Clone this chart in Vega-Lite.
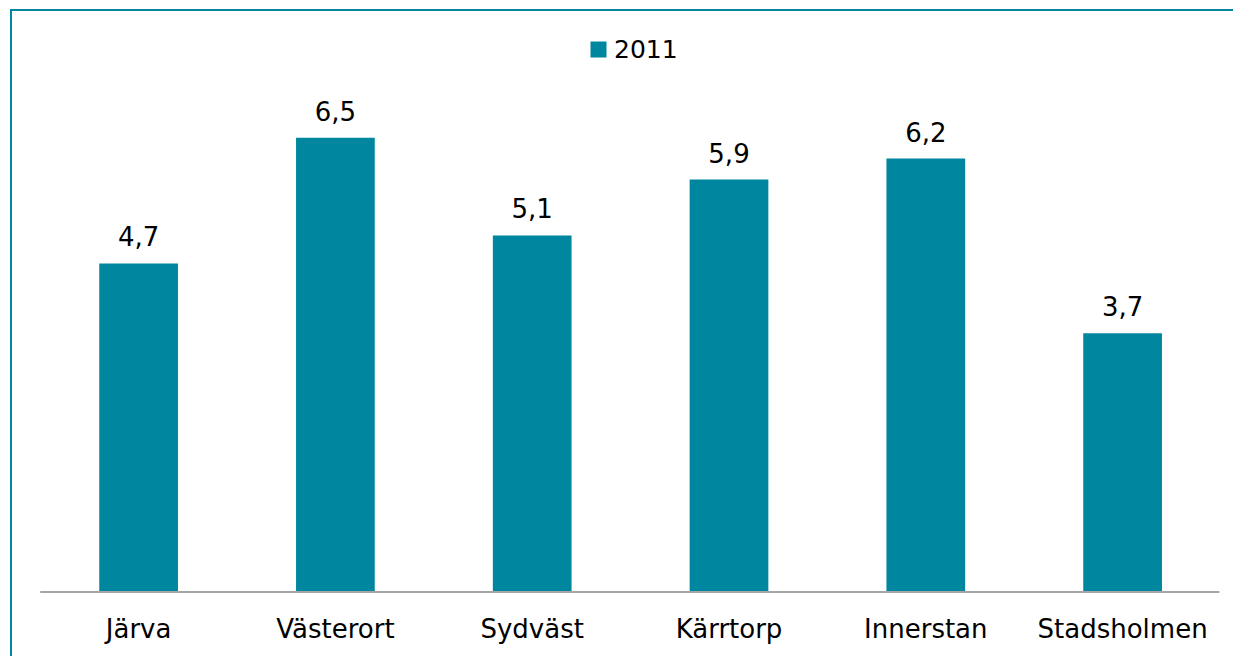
{
  "$schema": "https://vega.github.io/schema/vega-lite/v6.json",
  "autosize": "none",
  "width": 1222,
  "height": 646,
  "padding": {"left": 11, "top": 10, "right": 0, "bottom": 0},
  "background": "#ffffff",
  "config": {
    "locale": {"number": {"decimal": ",", "thousands": " ", "grouping": [3], "currency": ["", " kr"]}},
    "view": {"stroke": "#00869f", "strokeWidth": 2, "strokeDash": [1222, 1868, 646, 1]},
    "font": "DejaVu Sans",
    "text": {"font": "DejaVu Sans"}
  },
  "layer": [
    {
      "data": {"values": [
        {"omrade": "Järva", "ar": "2011", "varde": 4.7},
        {"omrade": "Västerort", "ar": "2011", "varde": 6.5},
        {"omrade": "Sydväst", "ar": "2011", "varde": 5.1},
        {"omrade": "Kärrtorp", "ar": "2011", "varde": 5.9},
        {"omrade": "Innerstan", "ar": "2011", "varde": 6.2},
        {"omrade": "Stadsholmen", "ar": "2011", "varde": 3.7}
      ]},
      "layer": [
        {
          "mark": {"type": "bar"},
          "encoding": {
            "x": {
              "field": "omrade", "type": "nominal", "sort": null,
              "scale": {"domain": ["Järva", "Västerort", "Sydväst", "Kärrtorp", "Innerstan", "Stadsholmen"], "paddingInner": 0.6, "paddingOuter": 0.4047, "align": 0.554},
              "axis": {"title": null, "orient": "bottom", "offset": -64, "domain": false, "ticks": false, "tickSize": 0, "labelPadding": 45, "labelBaseline": "alphabetic", "labelFont": "DejaVu Sans", "labelFontSize": 26, "labelColor": "#000000", "labelAngle": 0, "grid": false}
            },
            "y": {
              "field": "varde", "type": "quantitative",
              "scale": {"domain": [-0.916, 8.326], "nice": false, "zero": false},
              "axis": null
            },
            "color": {
              "field": "ar", "type": "nominal",
              "scale": {"range": ["#00869f"]},
              "legend": {"title": null, "orient": "none", "legendX": 575, "legendY": 27, "padding": 0, "symbolType": "square", "symbolSize": 256, "symbolStrokeWidth": 0, "labelFont": "DejaVu Sans", "labelFontSize": 25, "labelColor": "#000000", "labelOffset": 3}
            }
          }
        },
        {
          "mark": {"type": "text", "baseline": "alphabetic", "align": "center", "dy": -17, "fontSize": 26, "color": "#000000"},
          "encoding": {
            "x": {"field": "omrade", "type": "nominal", "sort": null},
            "y": {"field": "varde", "type": "quantitative"},
            "text": {"field": "varde", "type": "quantitative", "format": ".1f"}
          }
        }
      ]
    },
    {
      "data": {"values": [{"fran": "Järva", "till": "Stadsholmen", "noll": 0}]},
      "mark": {"type": "rule", "color": "#a6a6a6", "strokeWidth": 2},
      "encoding": {
        "x": {"field": "fran", "type": "nominal", "bandPosition": -0.75},
        "x2": {"field": "till", "bandPosition": 1.73},
        "y": {"field": "noll", "type": "quantitative"}
      }
    }
  ]
}
